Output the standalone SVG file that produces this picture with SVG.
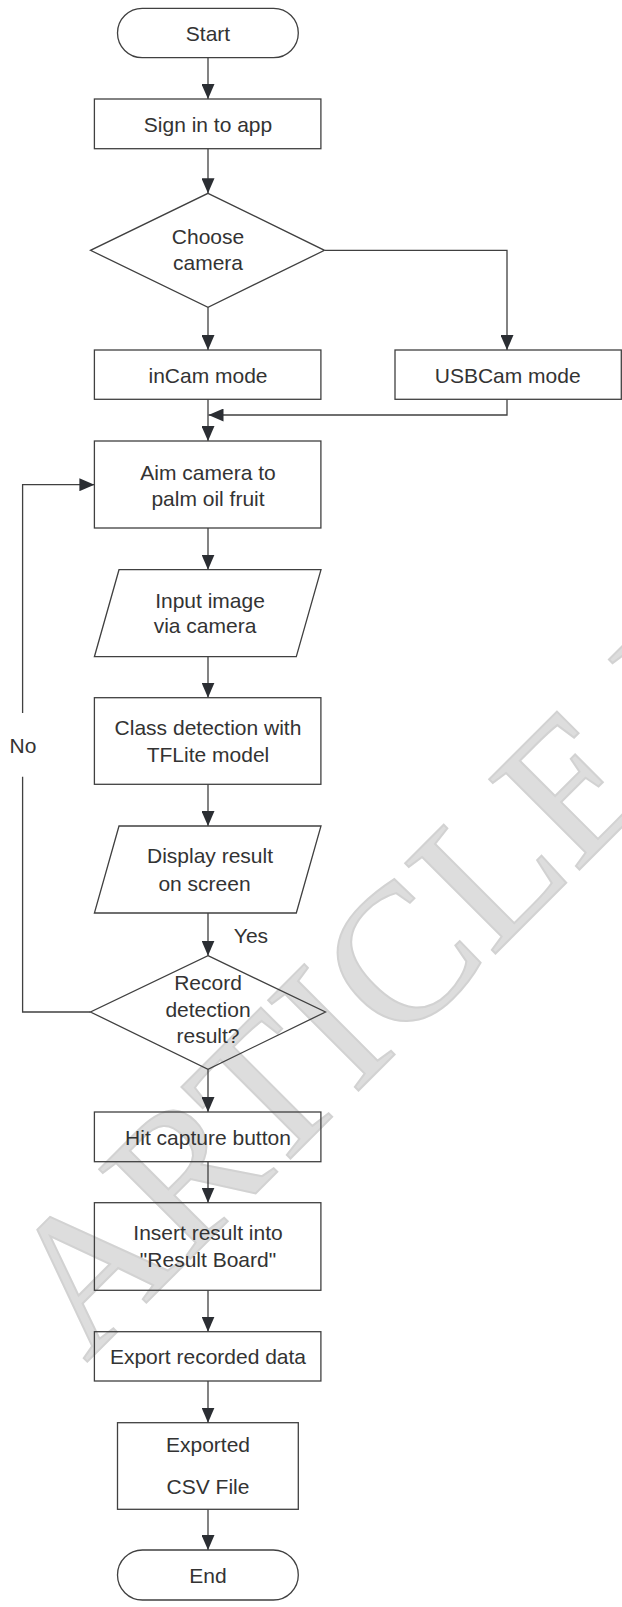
<svg xmlns="http://www.w3.org/2000/svg" width="622" height="1607" viewBox="0 0 622 1607">
  <style>
    .shape { fill: none; stroke: #404040; stroke-width: 1.3; }
    .link { fill: none; stroke: #404040; stroke-width: 1.3; }
    .label { font-family: "Liberation Sans", Arial, sans-serif; font-size: 21px; fill: #333; text-anchor: middle; }
    .mark { font-family: "Liberation Serif", "Times New Roman", serif; font-size: 195px; fill: #dddddd; stroke: #d2d2d2; stroke-width: 2; }
  </style>
  <defs>
    <marker id="arrow" markerUnits="userSpaceOnUse" markerWidth="16" markerHeight="13" refX="15" refY="6.5" orient="auto">
      <path d="M0,0 L15,6.5 L0,13 Z" fill="#2b2e33"/>
    </marker>
  </defs>

  <rect width="622" height="1607" fill="#fff"/>

  <!-- background stamp -->
  <text class="mark" transform="translate(86,1363) rotate(-45)">ARTICLE IN PRESS</text>

  <!-- connectors -->
  <g id="connectors">
    <path class="link" d="M208,57.7 V99" marker-end="url(#arrow)"/>
    <path class="link" d="M208,148.7 V193.3" marker-end="url(#arrow)"/>
    <path class="link" d="M208,307.3 V350" marker-end="url(#arrow)"/>
    <path class="link" d="M325,250.3 H507 V350" marker-end="url(#arrow)"/>
    <path class="link" d="M208,399.3 V441" marker-end="url(#arrow)"/>
    <path class="link" d="M507,399.3 V415 H208.5" marker-end="url(#arrow)"/>
    <path class="link" d="M208,528 V569.7" marker-end="url(#arrow)"/>
    <path class="link" d="M208,656.7 V697.7" marker-end="url(#arrow)"/>
    <path class="link" d="M208,784.3 V826" marker-end="url(#arrow)"/>
    <path class="link" d="M208,913 V955.7" marker-end="url(#arrow)"/>
    <path class="link" d="M208,1069.3 V1112" marker-end="url(#arrow)"/>
    <path class="link" d="M208,1161.7 V1202.7" marker-end="url(#arrow)"/>
    <path class="link" d="M208,1290.3 V1331.7" marker-end="url(#arrow)"/>
    <path class="link" d="M208,1381 V1422.7" marker-end="url(#arrow)"/>
    <path class="link" d="M208,1509.3 V1550" marker-end="url(#arrow)"/>
    <path class="link" d="M90.5,1012 H22.6 V776.7"/>
    <path class="link" d="M22.6,713 V484.7 H94.4" marker-end="url(#arrow)"/>
    <text class="label" x="23" y="752.5">No</text>
    <text class="label" x="251" y="942.5">Yes</text>
  </g>

  <g id="start">
    <rect class="shape" x="117.5" y="8.3" width="180.8" height="49.4" rx="24.7"/>
    <text class="label" x="208" y="40.8">Start</text>
  </g>

  <g id="sign-in">
    <rect class="shape" x="94.4" y="99" width="226.5" height="49.7"/>
    <text class="label" x="208" y="131.6">Sign in to app</text>
  </g>

  <g id="choose-camera">
    <polygon class="shape" points="208,193.3 324.5,250.3 208,307.3 90.5,250.3"/>
    <text class="label" x="208" y="243.5">Choose</text>
    <text class="label" x="208" y="269.5">camera</text>
  </g>

  <g id="incam">
    <rect class="shape" x="94.4" y="350" width="226.5" height="49.3"/>
    <text class="label" x="208" y="382.6">inCam mode</text>
  </g>

  <g id="usbcam">
    <rect class="shape" x="395" y="350" width="226.3" height="49.3"/>
    <text class="label" x="507.7" y="382.6">USBCam mode</text>
  </g>

  <g id="aim">
    <rect class="shape" x="94.4" y="441" width="226.5" height="87"/>
    <text class="label" x="208" y="479.5">Aim camera to</text>
    <text class="label" x="208" y="506">palm oil fruit</text>
  </g>

  <g id="input-image">
    <polygon class="shape" points="119,569.7 321,569.7 296.3,656.7 94.4,656.7"/>
    <text class="label" x="210" y="608.3">Input image</text>
    <text class="label" x="205" y="633.3">via camera</text>
  </g>

  <g id="class-detection">
    <rect class="shape" x="94.4" y="697.7" width="226.5" height="86.6"/>
    <text class="label" x="208" y="735">Class detection with</text>
    <text class="label" x="208" y="761.7">TFLite model</text>
  </g>

  <g id="display-result">
    <polygon class="shape" points="119,826 321,826 296.3,913 94.4,913"/>
    <text class="label" x="210" y="863.3">Display result</text>
    <text class="label" x="204.5" y="890.5">on screen</text>
  </g>

  <g id="record-decision">
    <polygon class="shape" points="208,955.7 325.5,1012 208,1069.3 90.5,1012"/>
    <text class="label" x="208" y="990">Record</text>
    <text class="label" x="208" y="1017">detection</text>
    <text class="label" x="208" y="1043.3">result?</text>
  </g>

  <g id="hit-capture">
    <rect class="shape" x="94.4" y="1112" width="226.5" height="49.7"/>
    <text class="label" x="208" y="1145">Hit capture button</text>
  </g>

  <g id="insert-result">
    <rect class="shape" x="94.4" y="1202.7" width="226.5" height="87.6"/>
    <text class="label" x="208" y="1240">Insert result into</text>
    <text class="label" x="208" y="1267.3">"Result Board"</text>
  </g>

  <g id="export-data">
    <rect class="shape" x="94.4" y="1331.7" width="226.5" height="49.3"/>
    <text class="label" x="208" y="1363.5">Export recorded data</text>
  </g>

  <g id="csv-file">
    <rect class="shape" x="117.5" y="1422.7" width="180.8" height="86.6"/>
    <text class="label" x="208" y="1451.7">Exported</text>
    <text class="label" x="208" y="1494">CSV File</text>
  </g>

  <g id="end">
    <rect class="shape" x="117.5" y="1550" width="180.8" height="50" rx="25"/>
    <text class="label" x="208" y="1582.7">End</text>
  </g>
</svg>
